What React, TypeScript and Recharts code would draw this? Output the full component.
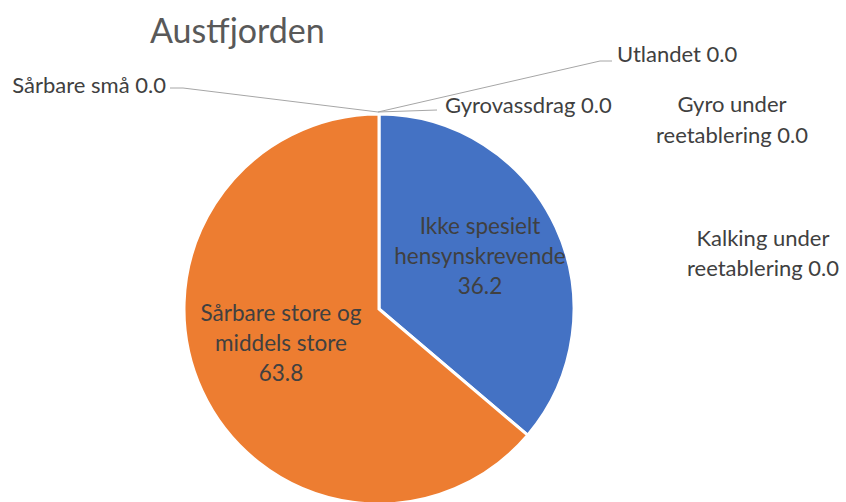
import React from 'react';
import { PieChart, Pie, Cell } from 'recharts';

const categories = [
  'Ikke spesielt hensynskrevende',
  'Sårbare store og middels store',
  'Sårbare små',
  'Gyrovassdrag',
  'Utlandet',
  'Gyro under reetablering',
  'Kalking under reetablering',
];
const values = [36.2, 63.8, 0, 0, 0, 0, 0];
const colors = ['#4472C4', '#ED7D31', '#A5A5A5', '#FFC000', '#5B9BD5', '#70AD47', '#264478'];
const title = 'Austfjorden';

// label placement relative to pie centre (layout only)
const labelLayout: { dx: number; dy: number; anchor: 'start' | 'middle' | 'end'; words: number[]; lh: number; fs: number; leader?: [number, number][] }[] = [
  { dx: 101, dy: -84, anchor: 'middle', words: [2, 1, 1], lh: 30, fs: 22.5 },
  { dx: -98, dy: 3, anchor: 'middle', words: [3, 2, 1], lh: 30, fs: 22.5 },
  { dx: -213, dy: -225, anchor: 'end', words: [3], lh: 30, fs: 22, leader: [[-209, -221], [-196, -221]] },
  { dx: 66, dy: -205, anchor: 'start', words: [2], lh: 30, fs: 22, leader: [[58, -199]] },
  { dx: 238, dy: -256, anchor: 'start', words: [2], lh: 30, fs: 22, leader: [[233, -248], [221, -248]] },
  { dx: 353, dy: -206, anchor: 'middle', words: [2, 2], lh: 31, fs: 22 },
  { dx: 384, dy: -72, anchor: 'middle', words: [2, 2], lh: 30, fs: 22 },
];

const data = categories.map((name, i) => ({ name, value: values[i] }));
const RAD = Math.PI / 180;

function renderLabel(props: any) {
  const { cx, cy, midAngle, outerRadius, index, name, value } = props;
  const lay = labelLayout[index];
  if (!lay) return null;
  const words = `${name} ${Number(value).toFixed(1)}`.split(' ');
  const lines: string[] = [];
  let k = 0;
  for (const n of lay.words) {
    lines.push(words.slice(k, k + n).join(' '));
    k += n;
  }
  const x = cx + lay.dx;
  const y0 = cy + lay.dy;
  let path = '';
  if (lay.leader) {
    const ex = cx + outerRadius * Math.cos(-midAngle * RAD);
    const ey = cy + outerRadius * Math.sin(-midAngle * RAD);
    const pts = lay.leader.map(([dx, dy]) => [cx + dx, cy + dy]);
    path = `M${pts.map((p) => p.join(',')).join(' L')} L${ex - 1},${ey - 2}`;
  }
  return (
    <g key={`lab-${index}`}>
      {path && <path d={path} stroke="#A6A6A6" strokeWidth={1} fill="none" />}
      <text
        x={x}
        y={y0}
        textAnchor={lay.anchor}
        fill="#404040"
        fontFamily="Lato, 'Open Sans', sans-serif"
        fontSize={lay.fs}
      >
        {lines.map((l, i) => (
          <tspan key={i} x={x} y={y0 + i * lay.lh} dominantBaseline="central">
            {l}
          </tspan>
        ))}
      </text>
    </g>
  );
}

export default function App() {
  return (
    <div style={{ position: 'absolute', left: 0, top: 0, width: 846, height: 502, background: '#fff', overflow: 'hidden' }}>
      <div
        style={{
          position: 'absolute',
          left: 150,
          top: 9,
          fontFamily: "Lato, 'Open Sans', sans-serif",
          fontSize: 34,
          color: '#595959',
          lineHeight: '42px',
          zIndex: 2,
        }}
      >
        {title}
      </div>
      <PieChart width={846} height={502} margin={{ top: 0, right: 0, bottom: 0, left: 0 }}>
        <Pie
          data={data}
          dataKey="value"
          nameKey="name"
          cx={379}
          cy={309}
          outerRadius={195}
          startAngle={90}
          endAngle={-270}
          stroke="#FFFFFF"
          strokeWidth={3}
          label={renderLabel}
          labelLine={false}
          isAnimationActive={false}
        >
          {data.map((d, i) => (
            <Cell key={d.name} fill={colors[i]} />
          ))}
        </Pie>
      </PieChart>
    </div>
  );
}
